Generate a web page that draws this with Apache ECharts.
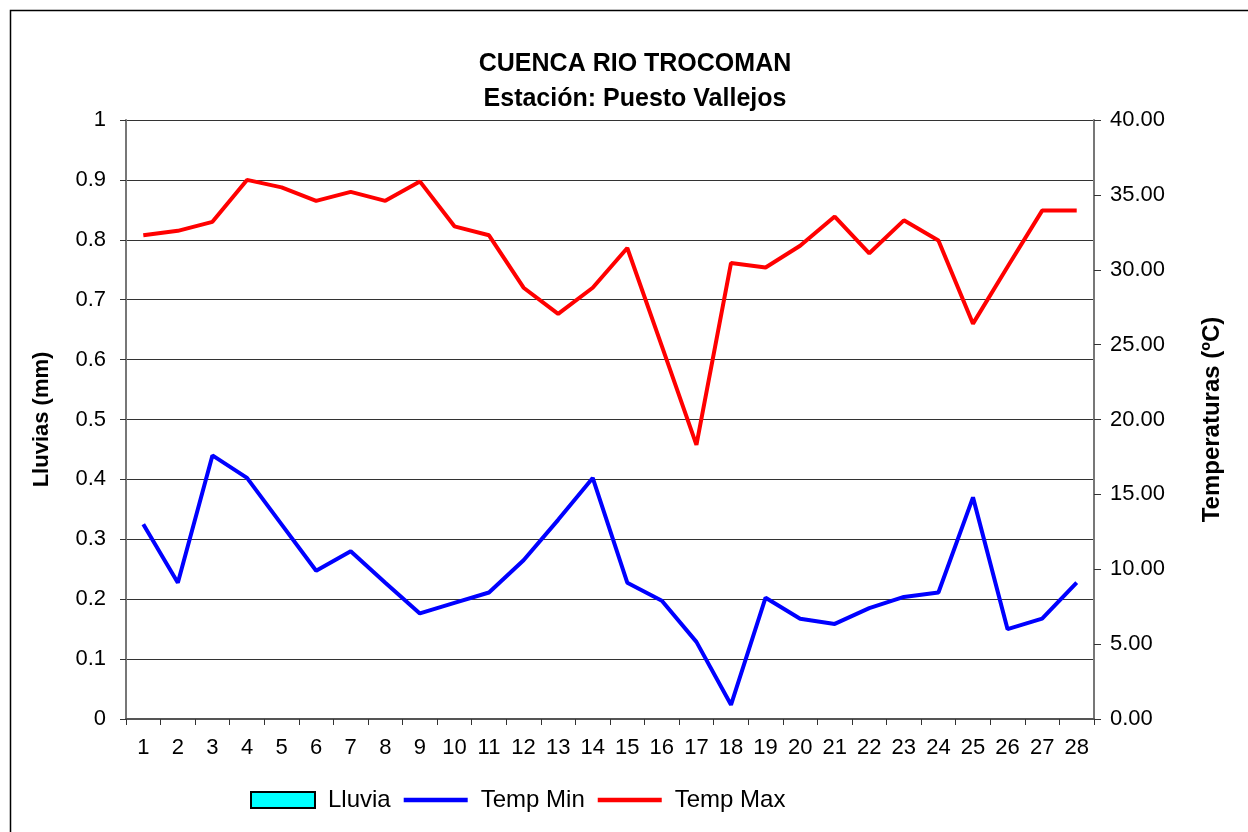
<!DOCTYPE html>
<html lang="es">

<head>
    <meta charset="UTF-8">
    <title>Cuenca Rio Trocoman</title>
    <script src="https://cdn.jsdelivr.net/npm/echarts@6/dist/echarts.min.js"></script>
    <style>
        html, body { margin: 0; padding: 0; background: #fff; }
        #chart { width: 1248px; height: 832px; }
    </style>
</head>

<body>
    <div id="chart"></div>
    <script>
        // dias del mes
        var dias = ['1', '2', '3', '4', '5', '6', '7', '8', '9', '10', '11', '12', '13', '14',
            '15', '16', '17', '18', '19', '20', '21', '22', '23', '24', '25', '26', '27', '28'];
        // lluvias (mm) - sin precipitacion
        var lluvia = [0, 0, 0, 0, 0, 0, 0, 0, 0, 0, 0, 0, 0, 0, 0, 0, 0, 0, 0, 0, 0, 0, 0, 0, 0, 0, 0, 0];
        // temperaturas (ºC)
        var tempMin = [13.0, 9.1, 17.6, 16.1, 13.0, 9.9, 11.2, 9.1, 7.05, 7.75, 8.45, 10.6, 13.3, 16.1,
            9.1, 7.9, 5.15, 0.95, 8.1, 6.7, 6.35, 7.4, 8.15, 8.45, 14.8, 6.0, 6.7, 9.1];
        var tempMax = [32.3, 32.6, 33.2, 36.0, 35.5, 34.6, 35.2, 34.6, 35.9, 32.9, 32.3, 28.8, 27.05, 28.8,
            31.45, 24.9, 18.3, 30.45, 30.15, 31.6, 33.55, 31.1, 33.3, 31.95, 26.4, 30.2, 33.95, 33.95];

        var fuente = '"Liberation Sans", Arial, sans-serif';
        // icono de linea para la leyenda
        var iconoLinea = 'path://M0,0H64V4.5H0Z';

        var myChart = echarts.init(document.getElementById('chart'));
        var option = {
            backgroundColor: '#fff',
            animation: false,
            textStyle: { fontFamily: fuente, color: '#000' },
            title: {
                text: 'CUENCA RIO TROCOMAN\nEstación: Puesto Vallejos',
                left: 630,
                top: 42,
                textAlign: 'center',
                textStyle: {
                    fontFamily: fuente,
                    fontSize: 25,
                    fontWeight: 'bold',
                    color: '#000',
                    lineHeight: 35
                }
            },
            graphic: [{
                type: 'rect',
                shape: { x: 10.5, y: 10.5, width: 1260, height: 850 },
                style: { fill: null, stroke: '#000', lineWidth: 1.5 },
                silent: true
            }],
            grid: {
                left: 126,
                right: 154,
                top: 120,
                bottom: 113
            },
            legend: {
                left: 250,
                top: 788,
                itemWidth: 64,
                itemHeight: 16,
                itemGap: 13,
                padding: 0,
                textStyle: { fontFamily: fuente, fontSize: 24, color: '#000', padding: [0, 0, 0, 8] },
                data: [{
                    name: 'Lluvia',
                    icon: 'rect',
                    itemStyle: { color: '#00FFFF', borderColor: '#000', borderWidth: 2 }
                }, {
                    name: 'Temp Min',
                    icon: iconoLinea
                }, {
                    name: 'Temp Max',
                    icon: iconoLinea
                }]
            },
            xAxis: {
                type: 'category',
                data: dias,
                boundaryGap: true,
                axisLine: { lineStyle: { color: '#555', width: 2 } },
                axisTick: { show: true, length: 6, lineStyle: { color: '#333' } },
                axisLabel: { fontSize: 22, color: '#000', margin: 18, interval: 0 },
                splitLine: { show: false }
            },
            yAxis: [{
                type: 'value',
                name: 'Lluvias (mm)',
                nameLocation: 'middle',
                nameGap: 73,
                nameTextStyle: { fontSize: 22, fontWeight: 'bold', color: '#000' },
                min: 0,
                max: 1,
                interval: 0.1,
                axisLine: { show: true, lineStyle: { color: '#777', width: 2 } },
                axisTick: { show: true, length: 6, lineStyle: { color: '#333' } },
                axisLabel: { fontSize: 22, color: '#000', margin: 20 },
                splitLine: { show: true, lineStyle: { color: '#333', width: 1 } }
            }, {
                type: 'value',
                name: 'Temperaturas (ºC)',
                nameLocation: 'middle',
                nameGap: 106,
                nameRotate: 90,
                nameTextStyle: { fontSize: 24, fontWeight: 'bold', color: '#000' },
                min: 0,
                max: 40,
                interval: 5,
                position: 'right',
                axisLine: { show: true, lineStyle: { color: '#777', width: 2 } },
                axisTick: { show: true, length: 7, lineStyle: { color: '#333' } },
                axisLabel: {
                    fontSize: 22,
                    color: '#000',
                    margin: 16,
                    formatter: function (value) {
                        return value.toFixed(2);
                    }
                },
                splitLine: { show: false }
            }],
            series: [{
                name: 'Lluvia',
                type: 'bar',
                yAxisIndex: 0,
                itemStyle: { color: '#00FFFF', borderWidth: 0 },
                data: lluvia
            }, {
                name: 'Temp Min',
                type: 'line',
                yAxisIndex: 1,
                symbol: 'none',
                lineStyle: { color: '#0000FF', width: 4 },
                itemStyle: { color: '#0000FF' },
                data: tempMin
            }, {
                name: 'Temp Max',
                type: 'line',
                yAxisIndex: 1,
                symbol: 'none',
                lineStyle: { color: '#FF0000', width: 4 },
                itemStyle: { color: '#FF0000' },
                data: tempMax
            }]
        };
        myChart.setOption(option);
    </script>
</body>

</html>
